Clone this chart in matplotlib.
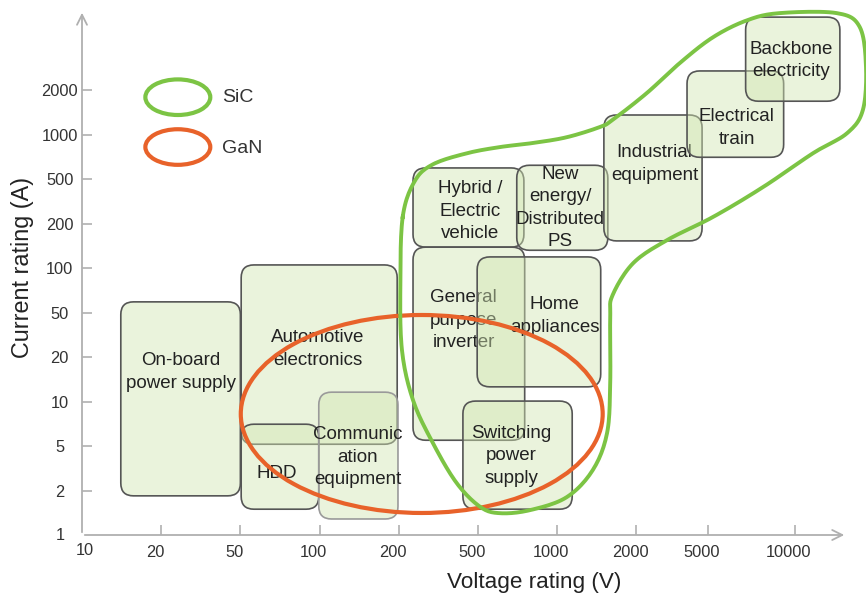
import matplotlib
matplotlib.use("Agg")
import matplotlib.pyplot as plt
import numpy as np
from matplotlib.patches import FancyBboxPatch, Ellipse
from matplotlib.transforms import ScaledTranslation

plt.rcParams['font.family'] = ['Liberation Sans', 'DejaVu Sans']

# axis ticks (positions are tick steps along each axis)
x_tick_labels = ["10", "20", "50", "100", "200", "500", "1000", "2000", "5000", "10000"]
x_tick_pos = [0, 1, 2, 3, 4, 5, 6, 7, 7.9, 9]
y_tick_labels = ["1", "2", "5", "10", "20", "50", "100", "200", "500", "1000", "2000"]
y_tick_pos = list(range(11))

# application areas, in tick steps
apps = ["On-board\npower supply", "Automotive\nelectronics", "HDD",
        "Communic\nation\nequipment", "Hybrid /\nElectric\nvehicle",
        "New\nenergy/\nDistributed\nPS", "General\npurpose\ninverter",
        "Home\nappliances", "Switching\npower\nsupply", "Industrial\nequipment",
        "Electrical\ntrain", "Backbone\nelectricity"]
x_lo = [0.49, 2.01, 2.01, 2.99, 4.18, 5.49, 4.18, 4.99, 4.81, 6.59, 7.64, 8.38]
x_hi = [2.00, 3.98, 2.99, 3.99, 5.58, 6.64, 5.59, 6.55, 6.19, 7.83, 8.86, 9.57]
y_lo = [0.88, 2.04, 0.58, 0.36, 6.47, 6.40, 2.13, 3.33, 0.58, 6.61, 8.49, 9.75]
y_hi = [5.24, 6.07, 2.49, 3.21, 8.25, 8.31, 6.47, 6.25, 3.01, 9.44, 10.43, 11.64]
label_x = [1.25, 2.98, 2.46, 3.48, 4.90, 6.04, 4.82, 5.97, 5.42, 7.23, 8.27, 8.96]
label_y = [3.66, 4.18, 1.39, 1.75, 7.28, 7.35, 4.83, 4.92, 1.78, 8.34, 9.15, 10.67]

# GaN region (ellipse) and SiC region (outline)
gan_center = (4.29, 2.72)
gan_size = (4.57, 4.45)
sic_x = [4.05, 4.20, 4.43, 4.86, 5.28, 5.69, 6.12, 6.54, 6.70, 7.13, 7.55, 7.97, 8.40,
         8.81, 9.53, 9.82, 9.90, 9.86, 9.66, 9.23, 8.60, 7.97, 7.39, 6.96, 6.70, 6.67,
         6.67, 6.63, 6.45, 6.12, 5.66, 5.28, 5.03, 4.73, 4.43, 4.18, 4.04, 4.02]
sic_y = [7.15, 7.95, 8.33, 8.58, 8.72, 8.81, 8.94, 9.17, 9.33, 9.93, 10.61, 11.19, 11.57,
         11.73, 11.73, 11.42, 10.52, 9.55, 9.03, 8.58, 7.82, 7.15, 6.63, 6.11, 5.39, 4.90,
         3.42, 2.29, 1.46, 0.85, 0.56, 0.49, 0.63, 1.17, 2.07, 3.03, 4.16, 5.66]

green = '#7cc444'
orange = '#e8622a'


def smooth_closed(xs, ys, n=12):
    # closed Catmull-Rom curve through the outline points
    pts = np.column_stack([xs, ys])
    P = np.vstack([pts[-1], pts, pts[0], pts[1]])
    t = np.linspace(0, 1, n, endpoint=False)[:, None]
    segs = []
    for i in range(1, len(pts) + 1):
        p0, p1, p2, p3 = P[i - 1], P[i], P[i + 1], P[i + 2]
        segs.append(0.5 * (2 * p1 + (-p0 + p2) * t + (2 * p0 - 5 * p1 + 4 * p2 - p3) * t ** 2
                           + (-p0 + 3 * p1 - 3 * p2 + p3) * t ** 3))
    segs.append(pts[:1])
    return np.vstack(segs)


fig = plt.figure(figsize=(8.66, 5.98), dpi=100)
ax = fig.add_axes([82 / 866, 1 - 535 / 598, 765 / 866, 525 / 598])
ax.set_xlim(0, 9.66)
ax.set_ylim(0, 11.8)

for s in ax.spines.values():
    s.set_visible(False)
ax.annotate('', xy=(1, 0), xytext=(0, 0), xycoords='axes fraction',
            arrowprops=dict(arrowstyle='->', color='#b0b0b0', lw=1.3, mutation_scale=18))
ax.annotate('', xy=(0, 1), xytext=(0, 0), xycoords='axes fraction',
            arrowprops=dict(arrowstyle='->', color='#b0b0b0', lw=1.3, mutation_scale=18))

ax.set_xticks(x_tick_pos[1:])
ax.set_xticklabels(x_tick_labels[1:])
ax.set_yticks(y_tick_pos[1:])
ax.set_yticklabels(y_tick_labels[1:])
ax.tick_params(direction='in', length=7, width=1.2, color='#b0b0b0',
               labelsize=11.8, labelcolor='#333333')
ax.tick_params(axis='x', pad=7)
ax.tick_params(axis='y', pad=16)
for lab in ax.get_yticklabels():
    lab.set_horizontalalignment('center')
shift = ScaledTranslation(-6 / 100, 0, fig.dpi_scale_trans)
for lab in ax.get_xticklabels():
    lab.set_transform(lab.get_transform() + shift)
# the "10" and "1" labels at the origin
ax.text(x_tick_pos[0] + 0.03, -0.35, x_tick_labels[0], ha='center', va='center',
        fontsize=11.8, color='#333333')
ax.text(-22 / 79.2, y_tick_pos[0], y_tick_labels[0], ha='center', va='center',
        fontsize=11.8, color='#333333')

ax.set_xlabel("Voltage rating (V)", fontsize=16.2, color='#222222', va='center')
ax.xaxis.set_label_coords(0.591, -0.091)
ax.set_ylabel("Current rating (A)", fontsize=16.8, color='#222222', va='center')
ax.yaxis.set_label_coords(-0.078, 0.51)

for i, name in enumerate(apps):
    edge = '#9a9a9a' if name.startswith("Communic") else '#555555'
    box = FancyBboxPatch((x_lo[i], y_lo[i]), x_hi[i] - x_lo[i], y_hi[i] - y_lo[i],
                         boxstyle='round,pad=0,rounding_size=0.16', mutation_aspect=79.2 / 44.5,
                         facecolor='#d2e6b2', alpha=0.45, edgecolor='none', zorder=2 + 2 * i)
    ax.add_patch(box)
    rim = FancyBboxPatch((x_lo[i], y_lo[i]), x_hi[i] - x_lo[i], y_hi[i] - y_lo[i],
                         boxstyle='round,pad=0,rounding_size=0.16', mutation_aspect=79.2 / 44.5,
                         facecolor='none', edgecolor=edge, lw=1.2, zorder=2 + 2 * i)
    ax.add_patch(rim)
    ax.text(label_x[i], label_y[i], name, ha='center', va='center', fontsize=13.5,
            color='#222222', linespacing=1.42, zorder=3 + 2 * i)

ax.add_patch(Ellipse(gan_center, gan_size[0], gan_size[1], facecolor='none',
                     edgecolor=orange, lw=3, zorder=40))
outline = smooth_closed(sic_x, sic_y)
ax.plot(outline[:, 0], outline[:, 1], color=green, lw=2.8, zorder=41, clip_on=False,
        solid_joinstyle='round')

# legend
ax.add_patch(Ellipse((1.21, 9.84), 0.82, 0.80, facecolor='none', edgecolor=green, lw=3, zorder=40))
ax.add_patch(Ellipse((1.21, 8.72), 0.82, 0.80, facecolor='none', edgecolor=orange, lw=3, zorder=40))
ax.text(1.77, 9.84, "SiC", fontsize=14, va='center', ha='left', color='#333333')
ax.text(1.77, 8.68, "GaN", fontsize=14, va='center', ha='left', color='#333333')

fig.savefig("out.png", dpi=100)
